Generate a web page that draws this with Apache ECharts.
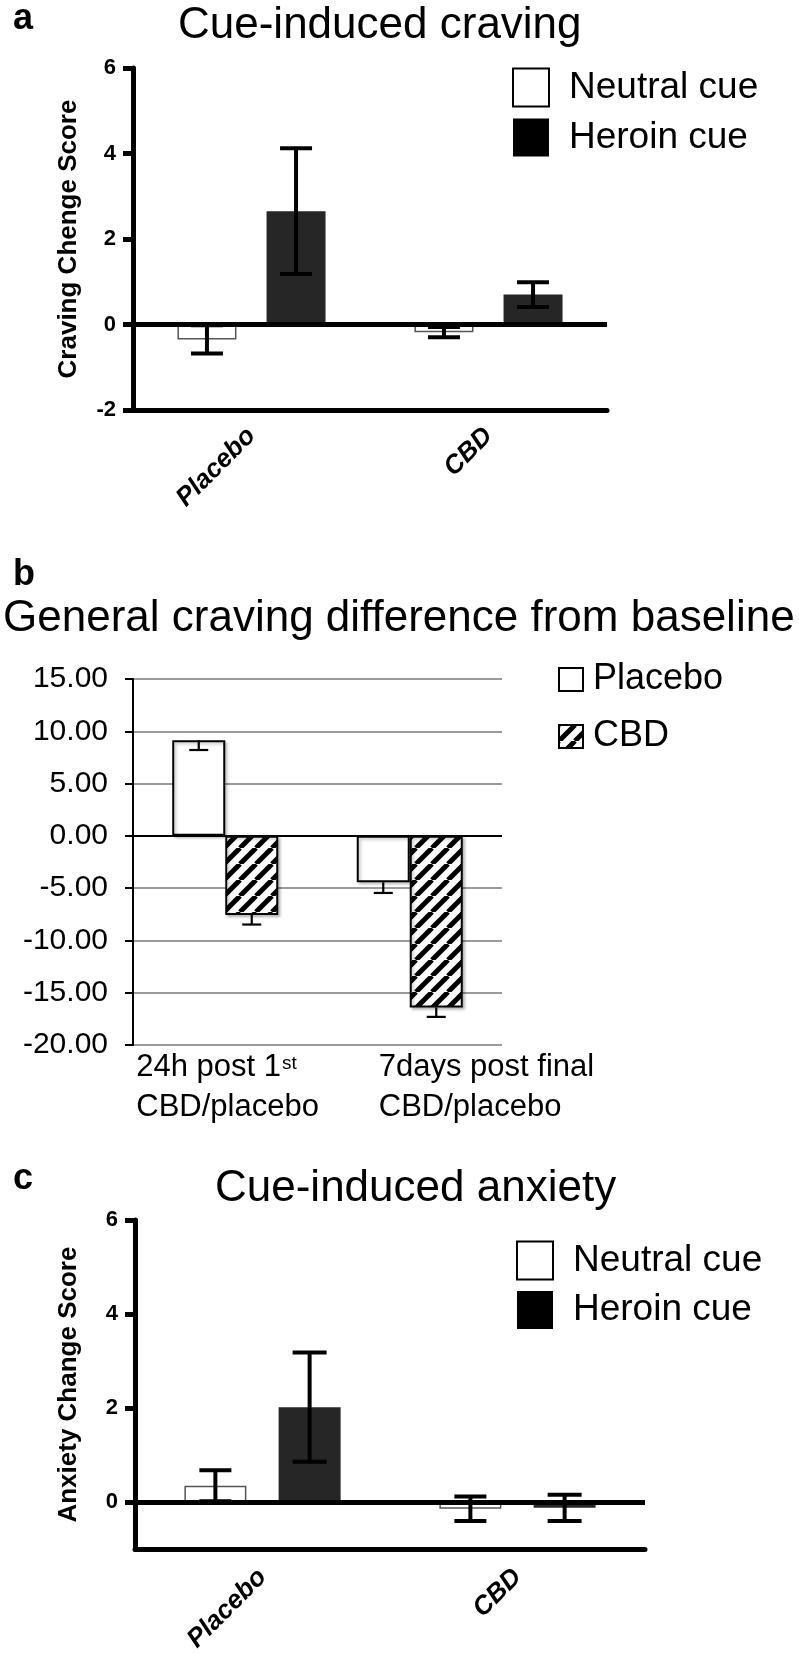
<!DOCTYPE html>
<html>
<head>
<meta charset="utf-8">
<script src="https://cdn.jsdelivr.net/npm/echarts@6/dist/echarts.min.js"></script>
<style>
html,body{margin:0;padding:0;background:#fff;}
#chart{width:799px;height:1655px;}
</style>
</head>
<body>
<div id="chart"></div>
<script>
// ---------- DATA ----------
// Panel a: cue-induced craving
const catsA = ['Placebo', 'CBD'];
const cueNames = ['Neutral cue', 'Heroin cue'];
const cravingNeutral = [-0.35, -0.18];
const cravingNeutralSE = [0.33, 0.12];
const cravingHeroin = [2.65, 0.70];
const cravingHeroinSE = [1.47, 0.29];
const ticksA = [-2, 0, 2, 4, 6];

// Panel b: general craving difference from baseline
const catsB = ['24h post 1^st\nCBD/placebo', '7days post final\nCBD/placebo'];
const groupNamesB = ['Placebo', 'CBD'];
const generalPlacebo = [9.14, -4.44];
const generalPlaceboErr = [0.93, 1.02];
const generalCBD = [-7.56, -16.41];
const generalCBDErr = [0.92, 0.90];
const ticksB = [-20, -15, -10, -5, 0, 5, 10, 15];

// Panel c: cue-induced anxiety
const catsC = ['Placebo', 'CBD'];
const anxietyNeutral = [0.35, -0.14];
const anxietyNeutralSE = [0.33, 0.26];
const anxietyHeroin = [2.02, -0.12];
const anxietyHeroinSE = [1.16, 0.28];
const ticksC = [0, 2, 4, 6];

// ---------- STYLE ----------
const FONT = "'Liberation Sans', Arial, Helvetica, sans-serif";
const BW_A = 59, GAP_A = 0.51;
const BW_B = 53, GAP_B = 0;
const BW_C = 62, GAP_C = 0.52;

function hatchCanvas() {
  const s = 16;
  const c = document.createElement('canvas');
  c.width = s; c.height = s;
  const g = c.getContext('2d');
  g.fillStyle = '#fff'; g.fillRect(0, 0, s, s);
  g.strokeStyle = '#000'; g.lineWidth = 5;
  g.beginPath();
  for (const o of [-s, 0, s]) { g.moveTo(o, s); g.lineTo(o + s, 0); }
  g.stroke();
  return c;
}
const hatch = { image: hatchCanvas(), repeat: 'repeat' };

function errData(means, errs, mode) {
  return means.map((m, i) => mode === 'down' ? [i, m - errs[i], m] : [i, m - errs[i], m + errs[i]]);
}

function errRenderer(offset, capW, lw, mode) {
  return function (params, api) {
    const idx = api.value(0);
    const pLo = api.coord([idx, api.value(1)]);
    const pHi = api.coord([idx, api.value(2)]);
    const cx = pLo[0] + offset;
    const st = { stroke: '#000', lineWidth: lw, lineCap: 'butt' };
    const ch = [
      { type: 'line', shape: { x1: cx, y1: pLo[1], x2: cx, y2: pHi[1] }, style: st },
      { type: 'line', shape: { x1: cx - capW / 2, y1: pLo[1], x2: cx + capW / 2, y2: pLo[1] }, style: st }
    ];
    if (mode !== 'down') {
      ch.push({ type: 'line', shape: { x1: cx - capW / 2, y1: pHi[1], x2: cx + capW / 2, y2: pHi[1] }, style: st });
    }
    return { type: 'group', children: ch };
  };
}

function zeroLine(width) {
  return {
    silent: true, symbol: 'none', label: { show: false }, z: 5,
    lineStyle: { color: '#000', width: width, type: 'solid' },
    data: [{ yAxis: 0 }]
  };
}

const chart = echarts.init(document.getElementById('chart'), null, { renderer: 'canvas' });

const boldTick = { color: '#000', fontFamily: FONT, fontWeight: 'bold', fontSize: 22 };
const catLabel = { color: '#000', fontFamily: FONT, fontWeight: 'bold', fontStyle: 'italic', fontSize: 26, rotate: 45 };

const option = {
  animation: false,
  backgroundColor: '#fff',
  title: [
    { text: 'a', left: 13, top: 1, padding: 0, textStyle: { fontFamily: FONT, fontWeight: 'bold', fontSize: 36, color: '#000' } },
    { text: 'Cue-induced craving', left: 178, top: 4, padding: 0, textStyle: { fontFamily: FONT, fontWeight: 'normal', fontSize: 44, color: '#000' } },
    { text: 'b', left: 13, top: 557, padding: 0, textStyle: { fontFamily: FONT, fontWeight: 'bold', fontSize: 36, color: '#000' } },
    { text: 'General craving difference from baseline', left: 3, top: 597, padding: 0, textStyle: { fontFamily: FONT, fontWeight: 'normal', fontSize: 44, color: '#000' } },
    { text: 'c', left: 13, top: 1161, padding: 0, textStyle: { fontFamily: FONT, fontWeight: 'bold', fontSize: 36, color: '#000' } },
    { text: 'Cue-induced anxiety', left: 215, top: 1167, padding: 0, textStyle: { fontFamily: FONT, fontWeight: 'normal', fontSize: 44, color: '#000' } }
  ],
  legend: [
    {
      left: 512, top: 67.5, orient: 'vertical', padding: 0, itemWidth: 36, itemHeight: 38, itemGap: 11,
      icon: 'rect', selectedMode: false,
      textStyle: { fontFamily: FONT, fontSize: 37, color: '#000', lineHeight: 38, padding: [0, 0, 0, 15] },
      data: [
        { name: cueNames[0], itemStyle: { color: '#fff', borderColor: '#000', borderWidth: 2 } },
        { name: cueNames[1], itemStyle: { color: '#000', borderWidth: 0 } }
      ]
    },
    {
      left: 558, top: 661.5, orient: 'vertical', padding: 0, itemWidth: 24, itemHeight: 23, itemGap: 21,
      icon: 'rect', selectedMode: false,
      textStyle: { fontFamily: FONT, fontSize: 36, color: '#000', lineHeight: 36, padding: [0, 0, 0, 5] },
      data: [
        { name: groupNamesB[0], itemStyle: { color: '#fff', borderColor: '#000', borderWidth: 2 } },
        { name: groupNamesB[1], itemStyle: { borderColor: '#000', borderWidth: 2 } }
      ]
    },
    {
      left: 516, top: 1240.5, orient: 'vertical', padding: 0, itemWidth: 36, itemHeight: 38, itemGap: 10.5,
      icon: 'rect', selectedMode: false,
      textStyle: { fontFamily: FONT, fontSize: 37, color: '#000', lineHeight: 38, padding: [0, 0, 0, 15] },
      data: [
        { name: cueNames[0], itemStyle: { color: '#fff', borderColor: '#000', borderWidth: 2 } },
        { name: cueNames[1], itemStyle: { color: '#000', borderWidth: 0 } }
      ]
    }
  ],
  grid: [
    { left: 133, top: 68, width: 474, height: 342 },
    { left: 133, top: 679, width: 369, height: 366 },
    { left: 135, top: 1220, width: 510, height: 337 }
  ],
  xAxis: [
    {
      gridIndex: 0, type: 'category', data: catsA,
      axisLine: { onZero: false, lineStyle: { color: '#000', width: 5 } },
      axisTick: { alignWithLabel: true, length: 15, lineStyle: { color: '#000', width: 4 } },
      axisLabel: Object.assign({ margin: 22 }, catLabel)
    },
    {
      gridIndex: 1, type: 'category', data: catsB,
      axisLine: { show: false, onZero: false }, axisTick: { show: false }, axisLabel: { show: false }
    },
    {
      gridIndex: 2, type: 'category', data: catsC,
      axisLine: { onZero: false, lineStyle: { color: '#000', width: 5 } },
      axisTick: { alignWithLabel: true, length: 14, lineStyle: { color: '#000', width: 4 } },
      axisLabel: Object.assign({ margin: 24 }, catLabel)
    }
  ],
  yAxis: [
    {
      gridIndex: 0, type: 'value', min: ticksA[0], max: ticksA[ticksA.length - 1], interval: 2,
      name: 'Craving Chenge Score', nameLocation: 'middle', nameGap: 51, nameRotate: 90,
      nameTextStyle: { fontFamily: FONT, fontWeight: 'bold', fontSize: 26, color: '#000' },
      axisLine: { show: true, lineStyle: { color: '#000', width: 5 } },
      axisTick: { show: true, length: 10, lineStyle: { color: '#000', width: 5 } },
      axisLabel: Object.assign({ margin: 17 }, boldTick),
      splitLine: { show: false }
    },
    {
      gridIndex: 1, type: 'value', min: ticksB[0], max: ticksB[ticksB.length - 1], interval: 5,
      axisLine: { show: true, onZero: false, lineStyle: { color: '#000', width: 2 } },
      axisTick: { show: true, length: 8, lineStyle: { color: '#000', width: 2 } },
      axisLabel: { margin: 25, color: '#000', fontFamily: FONT, fontSize: 30, formatter: v => v.toFixed(2) },
      splitLine: { show: true, lineStyle: { color: '#9a9a9a', width: 2 } }
    },
    {
      gridIndex: 2, type: 'value', min: -1, max: ticksC[ticksC.length - 1], interval: 1,
      name: 'Anxiety Change Score', nameLocation: 'middle', nameGap: 53, nameRotate: 90,
      nameTextStyle: { fontFamily: FONT, fontWeight: 'bold', fontSize: 26, color: '#000' },
      axisLine: { show: true, lineStyle: { color: '#000', width: 5 } },
      axisTick: { show: true, length: 10, customValues: ticksC, lineStyle: { color: '#000', width: 5 } },
      axisLabel: Object.assign({ margin: 17, customValues: ticksC }, boldTick),
      splitLine: { show: false }
    }
  ],
  series: [
    // Panel a
    { name: cueNames[0], type: 'bar', xAxisIndex: 0, yAxisIndex: 0, data: cravingNeutral, barWidth: BW_A, barGap: (GAP_A * 100) + '%',
      itemStyle: { color: '#fff', borderColor: '#555', borderWidth: 1.5 } },
    { name: cueNames[1], type: 'bar', xAxisIndex: 0, yAxisIndex: 0, data: cravingHeroin, barWidth: BW_A, barGap: (GAP_A * 100) + '%',
      itemStyle: { color: '#262626' } },
    { name: 'errA0', type: 'custom', xAxisIndex: 0, yAxisIndex: 0, z: 3, data: errData(cravingNeutral, cravingNeutralSE),
      renderItem: errRenderer(-BW_A * (1 + GAP_A) / 2, 32, 4), encode: { x: 0, y: [1, 2] } },
    { name: 'errA1', type: 'custom', xAxisIndex: 0, yAxisIndex: 0, z: 3, data: errData(cravingHeroin, cravingHeroinSE),
      renderItem: errRenderer(BW_A * (1 + GAP_A) / 2, 32, 4), encode: { x: 0, y: [1, 2] },
      markLine: zeroLine(5) },

    // Panel b
    { name: groupNamesB[0], type: 'bar', xAxisIndex: 1, yAxisIndex: 1, data: generalPlacebo, barWidth: BW_B, barGap: (GAP_B * 100) + '%',
      itemStyle: { color: '#fff', borderColor: '#000', borderWidth: 2, shadowColor: 'rgba(0,0,0,0.25)', shadowBlur: 3, shadowOffsetX: 2, shadowOffsetY: 2 } },
    { name: groupNamesB[1], type: 'bar', xAxisIndex: 1, yAxisIndex: 1, data: generalCBD, barWidth: BW_B, barGap: (GAP_B * 100) + '%',
      itemStyle: { color: hatch, borderColor: '#000', borderWidth: 2, shadowColor: 'rgba(0,0,0,0.25)', shadowBlur: 3, shadowOffsetX: 2, shadowOffsetY: 2 } },
    { name: 'errB0', type: 'custom', xAxisIndex: 1, yAxisIndex: 1, z: 3, data: errData(generalPlacebo, generalPlaceboErr, 'down'),
      renderItem: errRenderer(-BW_B * (1 + GAP_B) / 2, 19, 2.2, 'down'), encode: { x: 0, y: [1, 2] } },
    { name: 'errB1', type: 'custom', xAxisIndex: 1, yAxisIndex: 1, z: 3, data: errData(generalCBD, generalCBDErr, 'down'),
      renderItem: errRenderer(BW_B * (1 + GAP_B) / 2, 19, 2.2, 'down'), encode: { x: 0, y: [1, 2] },
      markLine: zeroLine(2) },

    // Panel c
    { name: cueNames[0], type: 'bar', xAxisIndex: 2, yAxisIndex: 2, data: anxietyNeutral, barWidth: BW_C, barGap: (GAP_C * 100) + '%',
      itemStyle: { color: '#fff', borderColor: '#555', borderWidth: 1.5 } },
    { name: cueNames[1], type: 'bar', xAxisIndex: 2, yAxisIndex: 2, data: anxietyHeroin, barWidth: BW_C, barGap: (GAP_C * 100) + '%',
      itemStyle: { color: '#262626' } },
    { name: 'errC0', type: 'custom', xAxisIndex: 2, yAxisIndex: 2, z: 3, data: errData(anxietyNeutral, anxietyNeutralSE),
      renderItem: errRenderer(-BW_C * (1 + GAP_C) / 2, 32, 4), encode: { x: 0, y: [1, 2] } },
    { name: 'errC1', type: 'custom', xAxisIndex: 2, yAxisIndex: 2, z: 3, data: errData(anxietyHeroin, anxietyHeroinSE),
      renderItem: errRenderer(BW_C * (1 + GAP_C) / 2, 34, 4), encode: { x: 0, y: [1, 2] },
      markLine: zeroLine(5) }
  ]
};

chart.setOption(option);

// Panel b category labels (left-aligned two-line labels with superscript), placed from the axis scale
const labelShiftB = [-89, -31];
const labelGraphics = catsB.map((c, i) => {
  const px = chart.convertToPixel({ xAxisIndex: 1, yAxisIndex: 1 }, [i, ticksB[0]]);
  const lines = c.split('\n').map(line => {
    const m = line.split('^');
    return m.length > 1 ? '{n|' + m[0] + '}{s|' + m[1] + '}' : '{n|' + line + '}';
  });
  return {
    type: 'text', x: px[0] + labelShiftB[i], y: px[1] + 2, silent: true,
    style: {
      text: lines.join('\n'), align: 'left', verticalAlign: 'top',
      fill: '#000', fontFamily: FONT, fontSize: 31,
      rich: {
        n: { fontFamily: FONT, fontSize: 31, lineHeight: 40, align: 'left', color: '#000' },
        s: { fontFamily: FONT, fontSize: 19, lineHeight: 40, verticalAlign: 'top', align: 'left', padding: [7, 0, 0, 1], color: '#000' }
      }
    }
  };
});
chart.setOption({ graphic: labelGraphics });
</script>
</body>
</html>
